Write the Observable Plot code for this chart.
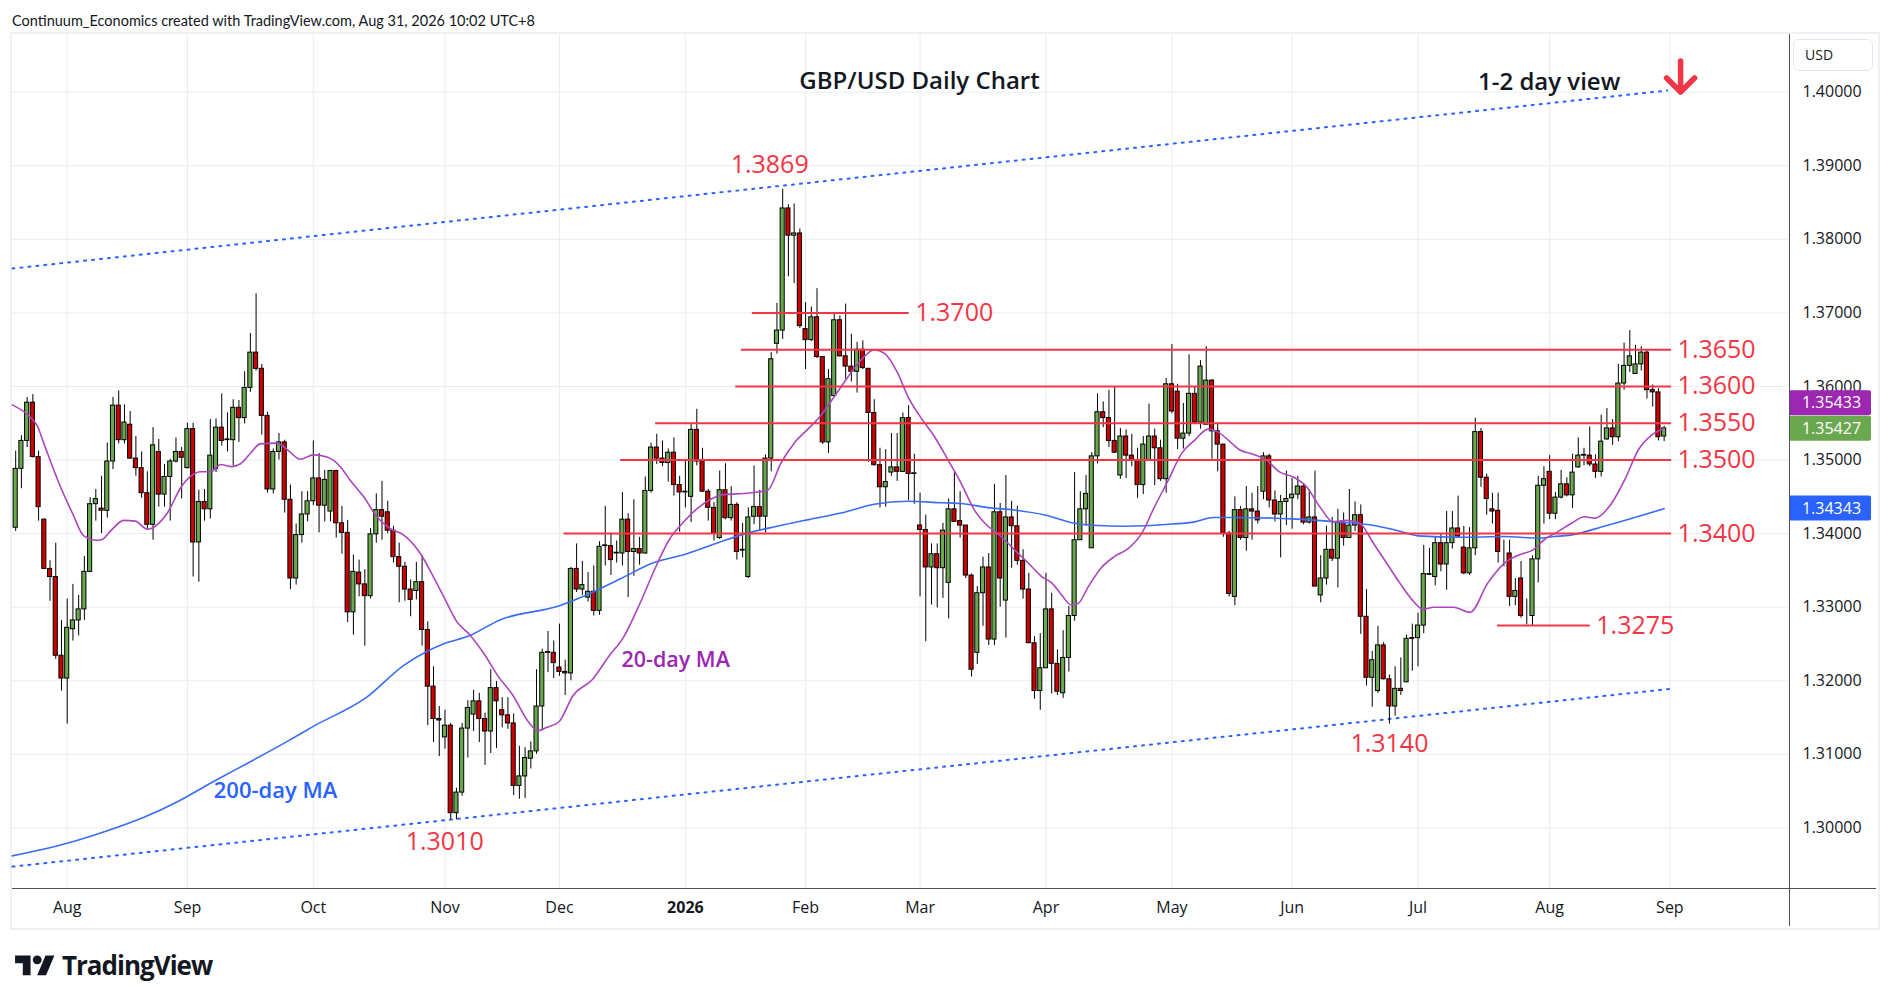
<!DOCTYPE html>
<html>
<head>
<meta charset="utf-8">
<script src="https://cdn.jsdelivr.net/npm/d3@7"></script>
<script src="https://cdn.jsdelivr.net/npm/@observablehq/plot@0.6"></script>
<style>
html,body{margin:0;padding:0;background:#ffffff;}
body{position:relative;width:1889px;height:1003px;overflow:hidden;}
#hdr{position:absolute;left:12px;top:14px;font-family:Lato,sans-serif;font-size:14.5px;line-height:1;color:#131722;white-space:nowrap;}
#frame{position:absolute;left:10px;top:32px;width:1866px;height:894px;border:2px solid #eef0f4;}
#chart{position:absolute;left:0;top:34px;}
#vline{position:absolute;left:1789px;top:34px;width:1px;height:892px;background:#50535e;}
#hline{position:absolute;left:12px;top:888px;width:1864px;height:1px;background:#50535e;}
#usd{position:absolute;left:1793px;top:39px;width:80px;height:32px;border:1px solid #e3e6ec;border-radius:6px;box-sizing:border-box;background:#fff;font-family:"Open Sans",sans-serif;font-size:14px;line-height:30px;padding-left:11px;color:#131722;}
#logo{position:absolute;left:15px;top:951px;}
#tv{position:absolute;left:62px;top:952px;font-family:"Open Sans",sans-serif;font-weight:700;font-size:26px;line-height:1;letter-spacing:-1px;color:#131722;}
</style>
</head>
<body>
<div id="hdr">Continuum_Economics created with TradingView.com, Aug 31, 2026 10:02 UTC+8</div>
<div id="frame"></div>
<div id="chart"></div>
<div id="vline"></div>
<div id="hline"></div>
<div id="usd">USD</div>
<svg id="logo" width="40" height="31" viewBox="0 0 36 28"><path d="M14 22H7V11H0V4h14v18zM28 22h-8l7.5-18h8L28 22z" fill="#131722"/><circle cx="20" cy="8" r="4" fill="#131722"/></svg>
<div id="tv">TradingView</div>
<script>
// ---- daily candles (bar 1 = 21 Jul 2025 ... bar 289 = 31 Aug 2026) ----
const open = [
1.3408,1.3488,1.3526,1.3578,1.3504,1.3419,1.3352,1.3341,1.3234,1.3203,
1.3270,1.3282,1.3297,1.3348,1.3440,1.3434,1.3431,1.3498,1.3574,1.3527,
1.3548,1.3502,1.3489,1.3455,1.3412,1.3511,1.3453,1.3477,1.3498,1.3511,
1.3489,1.3542,1.3388,1.3443,1.3433,1.3488,1.3544,1.3528,1.3527,1.3571,
1.3557,1.3598,1.3646,1.3624,1.3560,1.3460,1.3511,1.3524,1.3446,1.3339,
1.3398,1.3426,1.3444,1.3475,1.3438,1.3430,1.3485,1.3414,1.3401,1.3293,
1.3347,1.3331,1.3315,1.3399,1.3432,1.3429,1.3404,1.3368,1.3355,1.3324,
1.3322,1.3334,1.3269,1.3192,1.3148,1.3123,1.3139,1.3020,1.3048,1.3135,
1.3154,1.3172,1.3148,1.3131,1.3190,1.3160,1.3153,1.3142,1.3057,1.3070,
1.3094,1.3104,1.3165,1.3238,1.3238,1.3218,1.3212,1.3210,1.3352,1.3324,
1.3313,1.3321,1.3295,1.3383,1.3383,1.3373,1.3373,1.3419,1.3375,1.3379,
1.3373,1.3458,1.3517,1.3502,1.3496,1.3510,1.3466,1.3456,1.3450,1.3541,
1.3498,1.3457,1.3435,1.3394,1.3459,1.3421,1.3439,1.3377,1.3341,1.3423,
1.3436,1.3423,1.3502,1.3658,1.3676,1.3842,1.3805,1.3808,1.3678,1.3663,
1.3694,1.3640,1.3524,1.3587,1.3690,1.3641,1.3627,1.3620,1.3650,1.3624,
1.3564,1.3493,1.3463,1.3483,1.3490,1.3484,1.3557,1.3481,1.3411,1.3405,
1.3354,1.3372,1.3353,1.3333,1.3433,1.3417,1.3411,1.3343,1.3238,1.3319,
1.3354,1.3256,1.3429,1.3309,1.3422,1.3410,1.3363,1.3324,1.3251,1.3186,
1.3217,1.3297,1.3223,1.3183,1.3231,1.3288,1.3391,1.3433,1.3380,1.3505,
1.3565,1.3557,1.3526,1.3479,1.3532,1.3506,1.3500,1.3466,1.3500,1.3532,
1.3516,1.3474,1.3603,1.3593,1.3529,1.3536,1.3590,1.3551,1.3548,1.3608,
1.3539,1.3521,1.3400,1.3314,1.3432,1.3394,1.3433,1.3430,1.3457,1.3505,
1.3445,1.3426,1.3443,1.3448,1.3453,1.3464,1.3415,1.3422,1.3316,1.3339,
1.3378,1.3366,1.3415,1.3394,1.3411,1.3425,1.3287,1.3204,1.3186,1.3248,
1.3202,1.3165,1.3189,1.3198,1.3257,1.3258,1.3275,1.3344,1.3341,1.3387,
1.3358,1.3387,1.3407,1.3381,1.3346,1.3380,1.3538,1.3476,1.3433,1.3431,
1.3374,1.3373,1.3314,1.3339,1.3288,1.3288,1.3365,1.3465,1.3484,1.3427,
1.3449,1.3467,1.3452,1.3490,1.3506,1.3506,1.3494,1.3484,1.3528,1.3543,
1.3531,1.3604,1.3628,1.3617,1.3630,1.3646,1.3595,1.3592,1.3532];
const high = [
1.3512,1.3533,1.3585,1.3589,1.3512,1.3420,1.3363,1.3387,1.3282,1.3311,
1.3331,1.3316,1.3369,1.3449,1.3460,1.3478,1.3523,1.3585,1.3594,1.3575,
1.3566,1.3532,1.3511,1.3484,1.3544,1.3528,1.3494,1.3501,1.3530,1.3517,
1.3550,1.3550,1.3459,1.3460,1.3555,1.3556,1.3590,1.3564,1.3582,1.3581,
1.3620,1.3672,1.3726,1.3630,1.3565,1.3515,1.3536,1.3527,1.3466,1.3413,
1.3457,1.3457,1.3526,1.3509,1.3486,1.3486,1.3486,1.3437,1.3418,1.3371,
1.3364,1.3351,1.3407,1.3454,1.3471,1.3444,1.3410,1.3387,1.3361,1.3337,
1.3361,1.3370,1.3280,1.3219,1.3165,1.3160,1.3142,1.3054,1.3142,1.3173,
1.3187,1.3183,1.3156,1.3215,1.3199,1.3177,1.3177,1.3155,1.3111,1.3109,
1.3117,1.3215,1.3243,1.3267,1.3254,1.3277,1.3228,1.3354,1.3386,1.3362,
1.3347,1.3356,1.3389,1.3437,1.3399,1.3390,1.3456,1.3427,1.3446,1.3395,
1.3477,1.3523,1.3535,1.3526,1.3515,1.3530,1.3478,1.3501,1.3548,1.3569,
1.3516,1.3460,1.3442,1.3485,1.3495,1.3464,1.3442,1.3414,1.3435,1.3492,
1.3459,1.3507,1.3646,1.3713,1.3868,1.3847,1.3848,1.3814,1.3714,1.3708,
1.3733,1.3640,1.3623,1.3699,1.3696,1.3712,1.3671,1.3660,1.3662,1.3624,
1.3582,1.3516,1.3514,1.3536,1.3536,1.3564,1.3574,1.3508,1.3455,1.3425,
1.3386,1.3386,1.3414,1.3447,1.3483,1.3457,1.3411,1.3345,1.3328,1.3368,
1.3373,1.3467,1.3441,1.3479,1.3444,1.3437,1.3378,1.3346,1.3260,1.3264,
1.3346,1.3319,1.3242,1.3268,1.3301,1.3483,1.3457,1.3479,1.3510,1.3590,
1.3579,1.3595,1.3599,1.3543,1.3541,1.3535,1.3516,1.3532,1.3576,1.3542,
1.3527,1.3611,1.3657,1.3603,1.3577,1.3643,1.3600,1.3635,1.3654,1.3609,
1.3550,1.3521,1.3403,1.3450,1.3437,1.3464,1.3455,1.3464,1.3510,1.3508,
1.3458,1.3452,1.3485,1.3475,1.3478,1.3467,1.3460,1.3485,1.3370,1.3410,
1.3422,1.3433,1.3428,1.3460,1.3443,1.3439,1.3324,1.3240,1.3274,1.3252,
1.3208,1.3219,1.3231,1.3262,1.3277,1.3292,1.3384,1.3380,1.3396,1.3400,
1.3430,1.3430,1.3451,1.3410,1.3408,1.3557,1.3543,1.3481,1.3455,1.3455,
1.3391,1.3391,1.3339,1.3362,1.3311,1.3370,1.3478,1.3491,1.3506,1.3456,
1.3486,1.3476,1.3508,1.3530,1.3516,1.3545,1.3507,1.3561,1.3570,1.3555,
1.3630,1.3659,1.3676,1.3656,1.3654,1.3649,1.3602,1.3597,1.3546];
const low = [
1.3403,1.3461,1.3517,1.3503,1.3417,1.3351,1.3308,1.3229,1.3186,1.3141,
1.3254,1.3261,1.3282,1.3347,1.3417,1.3400,1.3421,1.3487,1.3522,1.3522,
1.3501,1.3478,1.3448,1.3406,1.3391,1.3436,1.3436,1.3417,1.3496,1.3447,
1.3488,1.3341,1.3334,1.3417,1.3420,1.3483,1.3519,1.3511,1.3492,1.3524,
1.3549,1.3592,1.3621,1.3534,1.3455,1.3454,1.3500,1.3428,1.3324,1.3330,
1.3387,1.3416,1.3438,1.3401,1.3416,1.3416,1.3394,1.3372,1.3279,1.3262,
1.3314,1.3247,1.3311,1.3387,1.3391,1.3400,1.3360,1.3306,1.3308,1.3287,
1.3310,1.3247,1.3139,1.3116,1.3097,1.3107,1.3011,1.3011,1.3043,1.3095,
1.3131,1.3116,1.3085,1.3101,1.3108,1.3136,1.3134,1.3044,1.3039,1.3040,
1.3080,1.3100,1.3132,1.3211,1.3203,1.3206,1.3180,1.3200,1.3320,1.3316,
1.3307,1.3288,1.3289,1.3356,1.3343,1.3360,1.3356,1.3313,1.3342,1.3357,
1.3372,1.3455,1.3494,1.3491,1.3470,1.3451,1.3402,1.3435,1.3415,1.3492,
1.3456,1.3417,1.3390,1.3392,1.3419,1.3417,1.3364,1.3367,1.3339,1.3412,
1.3403,1.3401,1.3484,1.3644,1.3664,1.3749,1.3740,1.3679,1.3623,1.3661,
1.3638,1.3521,1.3509,1.3586,1.3640,1.3610,1.3606,1.3591,1.3623,1.3497,
1.3492,1.3435,1.3436,1.3478,1.3471,1.3483,1.3445,1.3440,1.3314,1.3253,
1.3303,1.3299,1.3312,1.3284,1.3416,1.3394,1.3339,1.3205,1.3222,1.3274,
1.3248,1.3248,1.3300,1.3258,1.3353,1.3357,1.3311,1.3251,1.3175,1.3160,
1.3217,1.3182,1.3180,1.3176,1.3212,1.3281,1.3391,1.3410,1.3380,1.3495,
1.3544,1.3517,1.3509,1.3474,1.3475,1.3491,1.3448,1.3453,1.3499,1.3465,
1.3471,1.3455,1.3563,1.3514,1.3515,1.3532,1.3548,1.3542,1.3548,1.3501,
1.3484,1.3395,1.3314,1.3302,1.3391,1.3376,1.3391,1.3413,1.3446,1.3435,
1.3416,1.3367,1.3411,1.3406,1.3446,1.3412,1.3413,1.3328,1.3306,1.3330,
1.3362,1.3326,1.3383,1.3394,1.3403,1.3263,1.3193,1.3164,1.3183,1.3201,
1.3141,1.3152,1.3180,1.3197,1.3213,1.3219,1.3264,1.3343,1.3329,1.3348,
1.3323,1.3379,1.3394,1.3344,1.3343,1.3370,1.3463,1.3425,1.3413,1.3360,
1.3355,1.3301,1.3302,1.3285,1.3276,1.3275,1.3333,1.3413,1.3419,1.3419,
1.3447,1.3450,1.3434,1.3489,1.3492,1.3491,1.3475,1.3477,1.3527,1.3520,
1.3525,1.3595,1.3619,1.3617,1.3621,1.3583,1.3572,1.3526,1.3525];
const close = [
1.3488,1.3526,1.3578,1.3504,1.3436,1.3352,1.3341,1.3234,1.3203,1.3272,
1.3282,1.3297,1.3348,1.3440,1.3447,1.3431,1.3498,1.3574,1.3527,1.3551,
1.3502,1.3489,1.3455,1.3412,1.3520,1.3453,1.3477,1.3498,1.3511,1.3503,
1.3542,1.3388,1.3443,1.3433,1.3506,1.3544,1.3526,1.3527,1.3571,1.3557,
1.3598,1.3646,1.3624,1.3560,1.3460,1.3511,1.3524,1.3446,1.3339,1.3398,
1.3426,1.3444,1.3475,1.3438,1.3473,1.3485,1.3414,1.3401,1.3293,1.3348,
1.3331,1.3315,1.3399,1.3432,1.3423,1.3404,1.3368,1.3355,1.3324,1.3310,
1.3334,1.3269,1.3192,1.3148,1.3146,1.3139,1.3020,1.3048,1.3135,1.3163,
1.3172,1.3148,1.3131,1.3190,1.3172,1.3153,1.3142,1.3057,1.3070,1.3095,
1.3104,1.3165,1.3238,1.3239,1.3224,1.3212,1.3210,1.3352,1.3324,1.3330,
1.3321,1.3295,1.3382,1.3384,1.3364,1.3374,1.3419,1.3375,1.3379,1.3373,
1.3458,1.3517,1.3502,1.3496,1.3510,1.3466,1.3456,1.3457,1.3541,1.3498,
1.3457,1.3435,1.3400,1.3459,1.3421,1.3439,1.3375,1.3378,1.3422,1.3436,
1.3423,1.3502,1.3637,1.3676,1.3842,1.3805,1.3808,1.3682,1.3663,1.3694,
1.3640,1.3524,1.3610,1.3690,1.3641,1.3627,1.3620,1.3650,1.3625,1.3564,
1.3493,1.3463,1.3470,1.3490,1.3484,1.3557,1.3481,1.3482,1.3405,1.3354,
1.3372,1.3353,1.3404,1.3433,1.3416,1.3411,1.3343,1.3215,1.3319,1.3354,
1.3256,1.3429,1.3339,1.3422,1.3410,1.3363,1.3324,1.3251,1.3186,1.3217,
1.3297,1.3223,1.3185,1.3231,1.3288,1.3391,1.3433,1.3454,1.3505,1.3565,
1.3557,1.3526,1.3510,1.3532,1.3506,1.3500,1.3466,1.3521,1.3532,1.3516,
1.3474,1.3603,1.3566,1.3529,1.3536,1.3590,1.3551,1.3627,1.3608,1.3539,
1.3521,1.3400,1.3318,1.3432,1.3394,1.3433,1.3430,1.3418,1.3505,1.3445,
1.3426,1.3443,1.3447,1.3453,1.3464,1.3415,1.3422,1.3328,1.3339,1.3378,
1.3366,1.3415,1.3394,1.3411,1.3425,1.3287,1.3204,1.3228,1.3248,1.3202,
1.3165,1.3189,1.3186,1.3257,1.3258,1.3275,1.3345,1.3345,1.3387,1.3358,
1.3387,1.3407,1.3396,1.3346,1.3380,1.3538,1.3476,1.3447,1.3430,1.3375,
1.3374,1.3314,1.3322,1.3288,1.3288,1.3365,1.3465,1.3474,1.3427,1.3449,
1.3467,1.3452,1.3483,1.3506,1.3507,1.3494,1.3484,1.3525,1.3543,1.3531,
1.3604,1.3628,1.3641,1.3630,1.3646,1.3595,1.3592,1.3531,1.3543];

// ---- moving averages (at bar positions) ----
const ma20Idx = [0.4,3.3,4.8,5.9,8.8,10.9,12.9,15.2,16.1,17.5,19.9,21.9,24,25.7,27.5,29.8,31.6,33.3,35.1,36.8,38.6,40.3,42.1,43.7,46.6,48.9,50.7,53,55.4,57.7,59.4,61.8,64.1,66.4,68.8,71.7,74,75.8,78.1,80.4,82.8,85.3,87.8,90.7,92.2,93.6,96,98.3,101.8,104.7,107.1,110,112.9,115.2,117.6,119.9,122.3,124.6,126.9,130,132.4,134.7,137,139.4,141.7,144,146.4,148.7,151,152.8,155.1,156.9,159.2,161.5,163.9,166.2,168.5,170.6,173.2,175.5,177.9,180.2,182,183.7,185.4,186.6,188.4,190.7,193,195.4,197.7,200,202.4,204.7,207,209.3,211.1,213,214.8,217.2,219.5,221.8,224.2,226.5,228.8,231.2,233.5,235.8,238.2,240.5,242.8,245.2,246.9,248.7,252.2,255.1,258.2,261.1,264,266.1,268.1,270.5,272.8,275.1,276.9,279.8,282.1,284.5,286.8,289];
const ma20Val = [1.3575,1.3560,1.3546,1.3523,1.3464,1.3428,1.3397,1.3391,1.3392,1.3403,1.3418,1.3417,1.3406,1.3412,1.3428,1.3462,1.3478,1.3484,1.3484,1.3494,1.3491,1.3495,1.3510,1.3522,1.3523,1.3511,1.3501,1.3507,1.3504,1.3491,1.3473,1.3450,1.3423,1.3407,1.3398,1.3373,1.3341,1.3314,1.3280,1.3262,1.3237,1.3206,1.3181,1.3143,1.3132,1.3136,1.3145,1.3179,1.3202,1.3234,1.3258,1.3304,1.3356,1.3392,1.3415,1.3433,1.3446,1.3453,1.3454,1.3456,1.3459,1.3496,1.3523,1.3542,1.3561,1.3586,1.3613,1.3636,1.3650,1.3645,1.3618,1.3586,1.3557,1.3532,1.3500,1.3468,1.3432,1.3412,1.3396,1.3378,1.3360,1.3342,1.3333,1.3317,1.3303,1.3305,1.3328,1.3354,1.3369,1.3380,1.3400,1.3437,1.3473,1.3509,1.3527,1.3542,1.3538,1.3526,1.3514,1.3508,1.3500,1.3484,1.3477,1.3464,1.3437,1.3416,1.3418,1.3414,1.3387,1.3360,1.3333,1.3308,1.3297,1.3300,1.3300,1.3293,1.3333,1.3360,1.3372,1.3378,1.3392,1.3403,1.3414,1.3423,1.3421,1.3441,1.3473,1.3514,1.3534,1.3543];
const ma200Idx = [0.4,10,17,23.3,29.6,35.8,42,48.3,53,62.4,68.8,72.9,76,79.9,85.7,96,101.7,107,112.3,118,123.8,128.5,134,139.5,145.2,151,156.8,162.7,166,171.3,175.5,181,186,190,194.5,203,207,210.3,213.3,224,231.8,237.5,243,246,253.4,261,266.9,269.7,272.6,278.5,284.3,289];
const ma200Val = [1.2962,1.2979,1.2996,1.3014,1.3037,1.3064,1.3090,1.3117,1.3138,1.3178,1.3221,1.3240,1.3251,1.3260,1.3283,1.3302,1.3320,1.3340,1.3360,1.3372,1.3388,1.3400,1.3410,1.3419,1.3428,1.3440,1.3444,1.3442,1.3441,1.3435,1.3432,1.3425,1.3414,1.3411,1.3410,1.3413,1.3416,1.3422,1.3422,1.3420,1.3416,1.3412,1.3403,1.3397,1.3395,1.3396,1.3394,1.3396,1.3398,1.3410,1.3423,1.3434];

// ---- axes ----
const monthIdx = [10,31,53,76,96,118,139,159,181,203,224,246,269,290];
const monthLabels = ["Aug","Sep","Oct","Nov","Dec","2026","Feb","Mar","Apr","May","Jun","Jul","Aug","Sep"];
const priceTicks = [1.30,1.31,1.32,1.33,1.34,1.35,1.36,1.37,1.38,1.39,1.40];

// ---- drawings ----
const levelValues = [1.3700,1.3650,1.3600,1.3550,1.3500,1.3400,1.3275];
const levelLabels = ["1.3700","1.3650","1.3600","1.3550","1.3500","1.3400","1.3275"];
const levelFrom  = [129.7,127.8,126.8,112.8,106.7,96.8,259.9];
const levelTo    = [157.1,290.3,290.3,290.3,290.3,290.3,276.1];

const pivotLabels = ["1.3869","1.3010","1.3140"];
const pivotBar    = [135,77,241];
const pivotPrice  = [1.3868,1.3011,1.3141];

const channelUpper = {from:[0.443,1.37604], to:[289.55,1.40023]};
const channelLower = {from:[0.443,1.29474], to:[289.86,1.31888]};

const noteText  = ["GBP/USD Daily Chart","1-2 day view","20-day MA","200-day MA"];
const noteBar   = [158.9,268.9,116.3,46.4];
const notePrice = [1.40152,1.40141,1.3228,1.30508];

const arrowBar = [291.87];
const arrowPrice = [1.40424];

const badgeLabels = ["1.35433","1.35427","1.34343"];
const badgeValues = [1.35433,1.35427,1.34343];

// ---- build ----
const W = 1889, H = 893, ML = 12, MR = 100, MB = 39;
const xMin = 0.443, xMax = 310.9;
const pxPerBar = (W - ML - MR) / (xMax - xMin);
const RED = "#f23645", GREEN = "#6aa84f", CRED = "#cc0000";

const candles = close.map((c, k) => ({i: k + 1, o: open[k], h: high[k], l: low[k], c}));
const ma20 = ma20Idx.map((i, k) => ({i, v: ma20Val[k]}));
const ma200 = ma200Idx.map((i, k) => ({i, v: ma200Val[k]}));
const levels = levelValues.map((v, k) => ({v, t: levelLabels[k], a: levelFrom[k], b: levelTo[k]}));
const pivots = pivotLabels.map((t, k) => ({t, i: pivotBar[k], p: pivotPrice[k]}));
const notes = noteText.map((t, k) => ({t, i: noteBar[k], p: notePrice[k]}));
const chans = [channelUpper, channelLower].flatMap((c, k) => [{g:k, i:c.from[0], p:c.from[1]}, {g:k, i:c.to[0], p:c.to[1]}]);
const arrows = arrowBar.map((i, k) => ({i, p: arrowPrice[k]}));
const badgeColors = ["#9c27b0", GREEN, "#2962ff"];
const badgeShift = [-25, 0, 0];
const badges = badgeLabels.map((t, k) => ({t, v: badgeValues[k], col: badgeColors[k], s: badgeShift[k]}));
const monthMap = new Map(monthIdx.map((d, k) => [d, monthLabels[k]]));

const bw = 0.36;
const bX1 = xMax, bX2 = xMax + 82 / pxPerBar, bXc = xMax + 42 / pxPerBar;
const halfH = 12.5 / 7357;

const arrowShape = {
  draw(ctx, l) {
    const w = 14;
    ctx.moveTo(0, 0); ctx.lineTo(0, -l);
    ctx.moveTo(-w, -l + w); ctx.lineTo(0, -l); ctx.lineTo(w, -l + w);
  }
};

const pivotOffset = [[-13, -24], [-6, 22], [0, 20]];
const noteStyle = [
  {fill: "#131722", size: 24},
  {fill: "#131722", size: 24},
  {fill: "#9c27b0", size: 21.5},
  {fill: "#2962ff", size: 22}
];

const chart = Plot.plot({
  width: W, height: H,
  marginLeft: ML, marginRight: MR, marginTop: 0, marginBottom: MB,
  style: {fontFamily: "'Open Sans', sans-serif", fontSize: "16px", color: "#131722", background: "transparent", overflow: "visible"},
  x: {type: "linear", domain: [xMin, xMax], axis: null},
  y: {type: "linear", domain: [1.291763, 1.407843], axis: null},
  marks: [
    Plot.gridY(priceTicks, {stroke: "#e8edf3", strokeOpacity: 1, strokeWidth: 1}),
    Plot.gridX(monthIdx, {stroke: "#e8edf3", strokeOpacity: 1, strokeWidth: 1}),
    Plot.axisY(priceTicks, {anchor: "right", tickSize: 0, tickPadding: 13, tickFormat: d => d.toFixed(5), fontSize: 16, label: null, fill: "#131722"}),
    Plot.axisX(monthIdx, {anchor: "bottom", tickSize: 0, tickPadding: 13, tickFormat: d => monthMap.get(d), fontSize: 16, label: null, fill: "#131722"}),
    // channel
    Plot.line(chans, {x: "i", y: "p", z: "g", stroke: "#2962ff", strokeWidth: 2, strokeDasharray: "2,6"}),
    // candles
    Plot.ruleX(candles, {x: "i", y1: "l", y2: "h", stroke: "#000", strokeWidth: 1}),
    Plot.rect(candles, {x1: d => d.i - bw, x2: d => d.i + bw, y1: "o", y2: "c",
      fill: d => d.c >= d.o ? GREEN : CRED, stroke: "#000", strokeWidth: 1}),
    // moving averages
    Plot.line(ma200, {x: "i", y: "v", stroke: "#3a6cf4", strokeWidth: 1.6, curve: "monotone-x"}),
    Plot.line(ma20, {x: "i", y: "v", stroke: "#ab47bc", strokeWidth: 1.6, curve: "monotone-x"}),
    // horizontal levels
    Plot.ruleY(levels, {y: "v", x1: "a", x2: "b", stroke: RED, strokeWidth: 2}),
    Plot.text(levels, {x: "b", y: "v", text: "t", textAnchor: "start", dx: 6, fill: RED, fontSize: 25, fontWeight: 500}),
    // pivots
    ...pivots.map((p, k) => Plot.text([p], {x: "i", y: "p", text: "t", fill: RED, fontSize: 25, fontWeight: 500,
      dx: pivotOffset[k][0], dy: pivotOffset[k][1]})),
    // notes
    ...notes.map((n, k) => Plot.text([n], {x: "i", y: "p", text: "t", fill: noteStyle[k].fill, fontSize: noteStyle[k].size, fontWeight: 600})),
    // arrow
    Plot.vector(arrows, {x: "i", y: "p", length: 31, rotate: 180, anchor: "start", shape: arrowShape,
      stroke: RED, strokeWidth: 5.5, strokeLinecap: "round", strokeLinejoin: "round"}),
    // price badges
    ...badges.map(b => Plot.rect([b], {x1: () => bX1, x2: () => bX2, y1: d => d.v - halfH, y2: d => d.v + halfH, fill: b.col, dy: b.s, rx: 2})),
    ...badges.map(b => Plot.text([b], {x: () => bXc, y: "v", text: "t", fill: "#ffffff", fontSize: 16, fontWeight: 500, dy: b.s}))
  ]
});
document.getElementById("chart").appendChild(chart);
d3.select(chart).selectAll("text").filter(function(){ return this.textContent === "2026"; }).attr("font-weight", 700);
</script>
</body>
</html>
